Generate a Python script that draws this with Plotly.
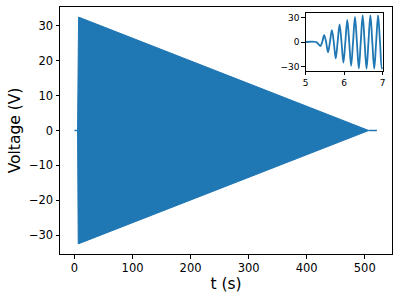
import plotly.graph_objects as go

BLUE = "#1f77b4"
FONT = "DejaVu Sans"

# ---- data ----
# main trace: dense oscillation shown as its envelope
lead_t = [0, 5.25]
lead_v = [0, 0]
env_t = [5.25, 6.4, 7.0, 507.0]
env_amp = [0, 32.5, 32.5, 0]
tail_t = [507.0, 521.0]
tail_v = [0, 0]

# inset: zoom on t = 5..7 (extremes and zero crossings)
inset_t = [5.00, 5.27, 5.33, 5.38, 5.43, 5.48, 5.53, 5.58, 5.63, 5.68, 5.73,
           5.78, 5.83, 5.88, 5.93, 5.98, 6.03, 6.08, 6.13, 6.18, 6.23, 6.28,
           6.33, 6.38, 6.43, 6.48, 6.53, 6.58, 6.63, 6.68, 6.73, 6.78, 6.83,
           6.88, 6.93, 6.98, 7.00]
inset_v = [0, 0, -2.5, -5, 0, 8.5, 0, -12.5, 0, 14.5, 0,
           -20, 0, 21.5, 0, -25, 0, 27, 0, -29, 0, 30.5,
           0, -32, 0, 32.5, 0, -32.5, 0, 32.5, 0, -32.5, 0,
           32.5, 0, -32.5, -31]

x_ticks = [0, 100, 200, 300, 400, 500]
y_ticks = [-30, -20, -10, 0, 10, 20, 30]
inset_x_ticks = [5, 6, 7]
inset_y_ticks = [-30, 0, 30]


def lab(v):
    return str(v).replace("-", "\u2212")


fig = go.Figure()

# envelope polygon
poly_x = env_t + env_t[::-1]
poly_y = env_amp + [-a for a in env_amp[::-1]]
fig.add_trace(go.Scatter(x=poly_x, y=poly_y, mode="lines", fill="toself",
                         fillcolor=BLUE, line=dict(color=BLUE, width=1),
                         hoverinfo="skip", showlegend=False))
fig.add_trace(go.Scatter(x=lead_t, y=lead_v, mode="lines",
                         line=dict(color=BLUE, width=1.5), showlegend=False))
fig.add_trace(go.Scatter(x=tail_t, y=tail_v, mode="lines",
                         line=dict(color=BLUE, width=1.5), showlegend=False))

# inset
fig.add_trace(go.Scatter(x=inset_t, y=inset_v, mode="lines",
                         line=dict(color=BLUE, width=1.8, shape="spline", smoothing=1.0),
                         xaxis="x2", yaxis="y2", showlegend=False))

axis_common = dict(showline=True, mirror=True, linecolor="black", linewidth=1,
                   ticks="outside", ticklen=3.5, tickwidth=0.8, tickcolor="black",
                   showgrid=False, zeroline=False, automargin=False)

fig.update_layout(
    width=398, height=299,
    margin=dict(l=60, r=6, t=7, b=45, autoexpand=False),
    paper_bgcolor="white", plot_bgcolor="white",
    font=dict(family=FONT, color="black"),
    xaxis=dict(range=[-25, 547], tickvals=x_ticks, ticktext=[lab(v) for v in x_ticks],
               tickfont=dict(size=11.5),
               title=dict(text="t (s)", font=dict(size=15.5), standoff=2),
               **axis_common),
    yaxis=dict(range=[-35.4, 35.4], tickvals=y_ticks, ticktext=[lab(v) for v in y_ticks],
               tickfont=dict(size=11.5),
               title=dict(text="Voltage (V)", font=dict(size=15.5), standoff=4),
               **axis_common),
    xaxis2=dict(domain=[0.740, 0.972], anchor="y2", range=[5, 7],
                tickvals=inset_x_ticks, ticktext=[lab(v) for v in inset_x_ticks],
                tickfont=dict(size=9), **axis_common),
    yaxis2=dict(domain=[0.742, 0.9745], anchor="x2", range=[-35, 35],
                tickvals=inset_y_ticks, ticktext=[lab(v) for v in inset_y_ticks],
                tickfont=dict(size=9), **axis_common),
    showlegend=False,
)

fig.write_html("out.html", config={"displayModeBar": False},
               post_script="document.body.style.margin='0';document.body.style.padding='0';")
